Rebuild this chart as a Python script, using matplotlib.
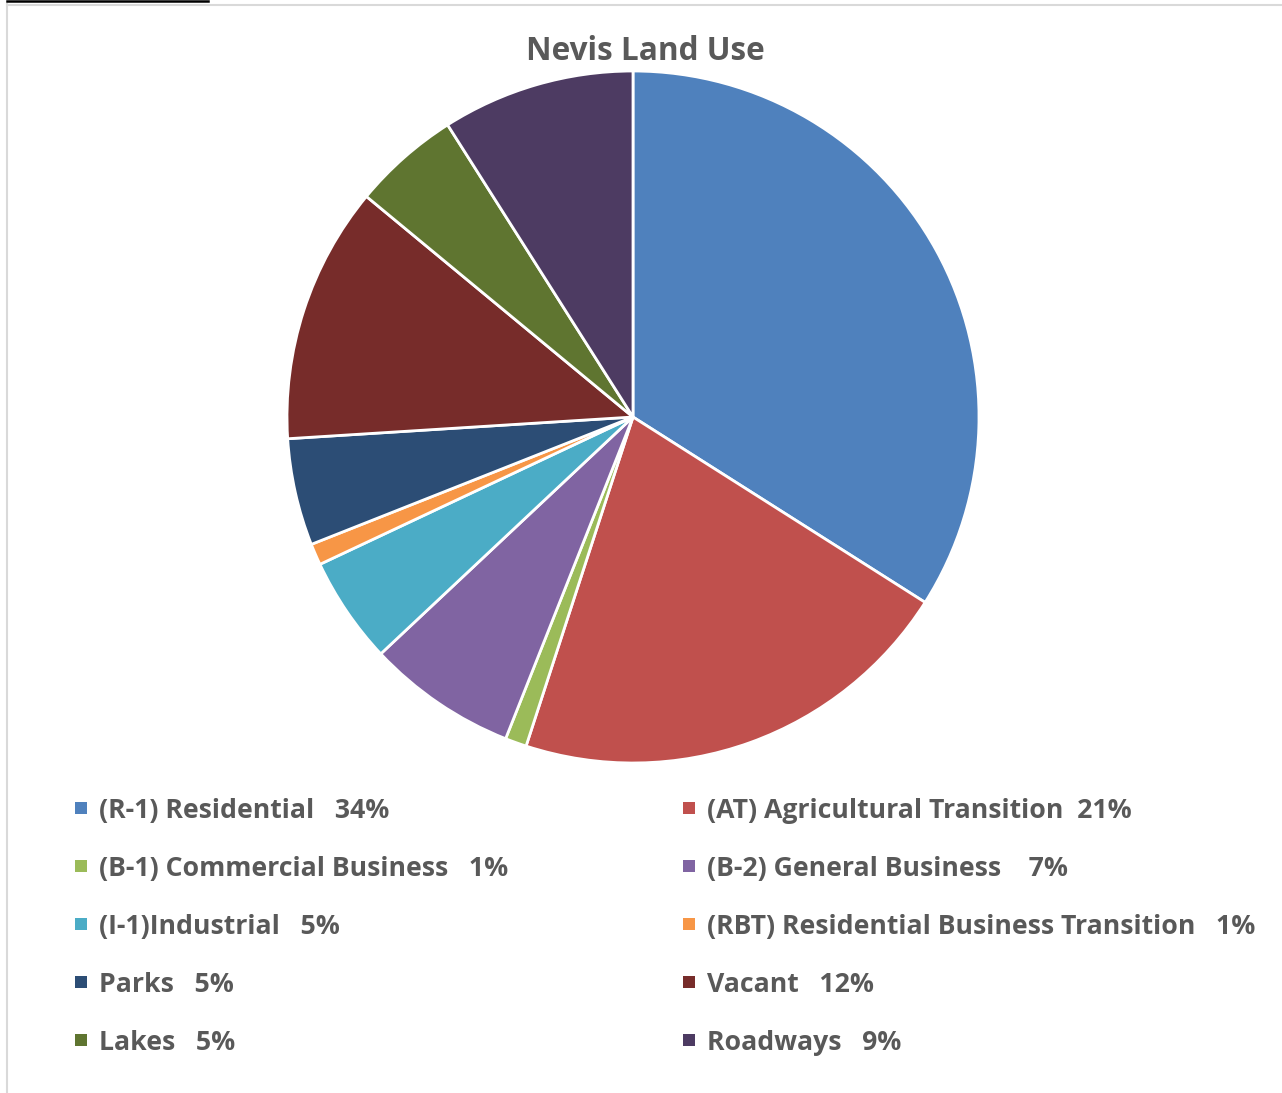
import matplotlib.pyplot as plt
from matplotlib.patches import Rectangle
from matplotlib.lines import Line2D

# Land use categories and shares (percent)
categories = [
    "(R-1) Residential", "(AT) Agricultural Transition", "(B-1) Commercial Business",
    "(B-2) General Business", "(I-1)Industrial", "(RBT) Residential Business Transition",
    "Parks", "Vacant", "Lakes", "Roadways",
]
shares = [34, 21, 1, 7, 5, 1, 5, 12, 5, 9]
gaps = ["   ", "  ", "   ", "    ", "   ", "   ", "   ", "   ", "   ", "   "]
colors = ["#4F81BD", "#C0504D", "#9BBB59", "#8064A2", "#4BACC6",
          "#F79646", "#2C4D75", "#772C2A", "#5F7530", "#4D3B62"]

plt.rcParams['font.family'] = ['Open Sans', 'DejaVu Sans']
text_color = "#595959"

W, H = 1282, 1093
fig = plt.figure(figsize=(W / 100, H / 100), dpi=100)

# pie placement in pixels
cx, cy, r = 633, 417, 346
ax = fig.add_axes([(cx - r) / W, (H - cy - r) / H, 2 * r / W, 2 * r / H])
ax.pie(shares, colors=colors, startangle=90, counterclock=False,
       wedgeprops=dict(edgecolor="white", linewidth=2))
ax.set_xlim(-1, 1)
ax.set_ylim(-1, 1)
ax.set_aspect("equal")

fig.text(645 / W, 1 - 51 / H, "Nevis Land Use", ha="center", va="center",
         fontsize=22.7, fontweight="bold", color=text_color)

# legend, two columns filled row by row
col_x = [99, 707]
row_y0, row_step = 808, 58
for i, (cat, val, gap, col) in enumerate(zip(categories, shares, gaps, colors)):
    x = col_x[i % 2]
    y = row_y0 + (i // 2) * row_step
    fig.patches.append(Rectangle(((x - 24) / W, 1 - (y + 6) / H), 12 / W, 12 / H,
                                 transform=fig.transFigure, facecolor=col,
                                 edgecolor="none"))
    fig.text(x / W, 1 - (y + 3) / H, f"{cat}{gap}{val}%", ha="left", va="center",
             fontsize=19.2, fontweight="bold", color=text_color)

# chart frame and the black bar on top
fig.add_artist(Line2D([6.5 / W, 6.5 / W], [0, 1 - 4 / H], color="#D9D9D9", lw=1.5,
                      transform=fig.transFigure))
fig.add_artist(Line2D([6.5 / W, 1], [1 - 4.5 / H, 1 - 4.5 / H], color="#D9D9D9", lw=1.5,
                      transform=fig.transFigure))
fig.add_artist(Line2D([7 / W, 208 / W], [1 - 1 / H, 1 - 1 / H], color="black", lw=1.8,
                      transform=fig.transFigure))

fig.savefig("out.png", dpi=100)
